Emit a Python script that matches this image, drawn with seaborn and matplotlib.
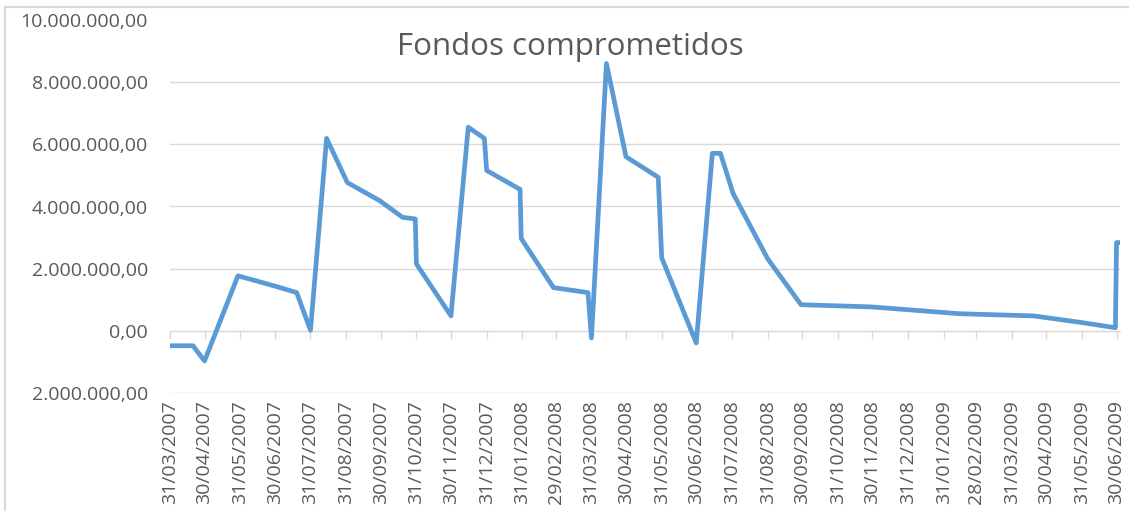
import pandas as pd
import numpy as np
import matplotlib.pyplot as plt
from matplotlib.patches import Rectangle
import seaborn as sns

# Fondos comprometidos
fechas = ['2007-03-31', '2007-04-20', '2007-04-30', '2007-05-29', '2007-07-02',
          '2007-07-19', '2007-07-31', '2007-08-14', '2007-09-01', '2007-09-29',
          '2007-10-19', '2007-10-30', '2007-10-31', '2007-11-30', '2007-12-15',
          '2007-12-29', '2007-12-31', '2008-01-29', '2008-01-30', '2008-02-27',
          '2008-03-28', '2008-03-31', '2008-04-13', '2008-04-30', '2008-05-28',
          '2008-05-31', '2008-06-30', '2008-07-14', '2008-07-21', '2008-08-01',
          '2008-08-31', '2008-09-29', '2008-11-29', '2009-02-14', '2009-04-19',
          '2009-06-01', '2009-06-29', '2009-06-30', '2009-07-03']
fondos = [-0.48e6, -0.48e6, -0.97e6, 1.77e6, 1.42e6,
          1.23e6, 0.02e6, 6.19e6, 4.77e6, 4.19e6,
          3.65e6, 3.60e6, 2.15e6, 0.48e6, 6.55e6,
          6.19e6, 5.16e6, 4.55e6, 2.97e6, 1.39e6,
          1.23e6, -0.23e6, 8.60e6, 5.60e6, 4.94e6,
          2.35e6, -0.39e6, 5.71e6, 5.71e6, 4.42e6,
          2.32e6, 0.84e6, 0.77e6, 0.55e6, 0.48e6,
          0.26e6, 0.10e6, 2.84e6, 2.84e6]

tick_fechas = ['31/03/2007', '30/04/2007', '31/05/2007', '30/06/2007', '31/07/2007',
               '31/08/2007', '30/09/2007', '31/10/2007', '30/11/2007', '31/12/2007',
               '31/01/2008', '29/02/2008', '31/03/2008', '30/04/2008', '31/05/2008',
               '30/06/2008', '31/07/2008', '31/08/2008', '30/09/2008', '31/10/2008',
               '30/11/2008', '31/12/2008', '31/01/2009', '28/02/2009', '31/03/2009',
               '30/04/2009', '31/05/2009', '30/06/2009']
y_ticks = [-2e6, 0, 2e6, 4e6, 6e6, 8e6, 10e6]
y_labels = ['2.000.000,00', '0,00', '2.000.000,00', '4.000.000,00',
            '6.000.000,00', '8.000.000,00', '10.000.000,00']

df = pd.DataFrame({'fecha': pd.to_datetime(fechas), 'fondos': fondos})
ticks = pd.to_datetime(tick_fechas, format='%d/%m/%Y')

sns.set_style('white')
plt.rcParams['font.family'] = ['Open Sans', 'DejaVu Sans']

fig = plt.figure(figsize=(11.29, 5.11), dpi=100)
ax = fig.add_axes([170 / 1129, 1 - 393 / 511, 950 / 1129, 373 / 511])

sns.lineplot(data=df, x='fecha', y='fondos', ax=ax, color='#5b9bd5',
             linewidth=3.4, solid_joinstyle='round')

ax.set_ylim(-2e6, 10e6)
ax.set_xlim(pd.Timestamp('2007-03-31'), pd.Timestamp('2009-07-03'))
ax.set_yticks(y_ticks)
ax.set_yticklabels(y_labels)
ax.set_xticks(ticks)
ax.set_xticklabels(tick_fechas, rotation=90, va='top', ha='center')
ax.tick_params(axis='y', length=0, pad=16, labelsize=14, labelcolor='#595959')
ax.tick_params(axis='x', length=0, pad=5, labelsize=14, labelcolor='#595959')
ax.set_xlabel('')
ax.set_ylabel('')
ax.grid(axis='y', color='#d9d9d9', linewidth=1)
ax.grid(axis='x', visible=False)
ax.get_ygridlines()[-1].set_visible(False)
for s in ax.spines.values():
    s.set_visible(False)

# category axis crossing at zero with small tick marks
sec = ax.secondary_xaxis(2 / 12)
sec.set_xticks(ticks)
sec.set_xticklabels([])
sec.tick_params(axis='x', length=6, width=1, color='#d9d9d9')
sec.spines['bottom'].set_color('#d9d9d9')

fig.text(570 / 1129, 1 - 47 / 511, 'Fondos comprometidos', fontsize=22.5,
         color='#595959', ha='center', va='center')

fig.patches.append(Rectangle((5 / 1129, -0.01), 1.0, 1 - 7 / 511 + 0.01,
                             transform=fig.transFigure, fill=False,
                             edgecolor='#d9d9d9', linewidth=1.5))

fig.savefig('out.png', dpi=100)
plt.close()
